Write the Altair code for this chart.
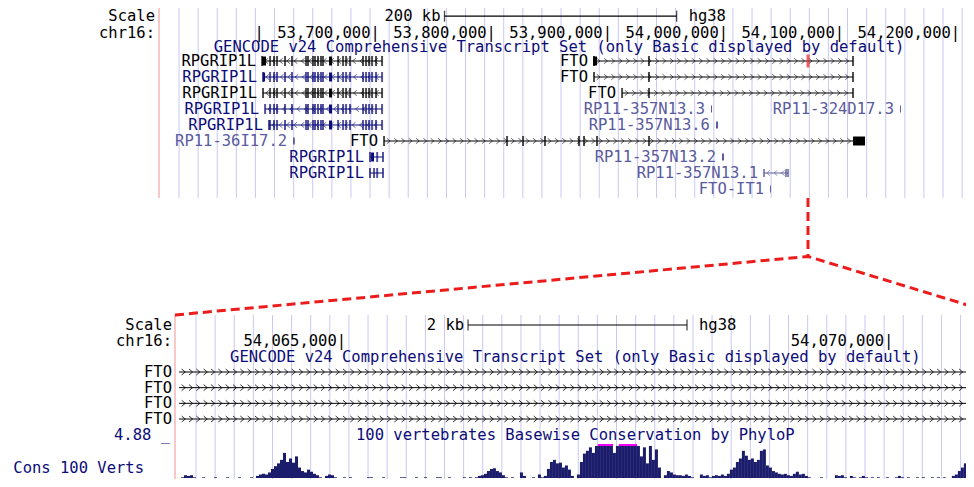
import altair as alt
import pandas as pd

# ------------------------------------------------------------------ canvas / style
W, H = 958, 471
FONT = "DejaVu Sans Mono"
FS = 15.5
BLACK, NAVY, SLATE = "#000000", "#0c0c78", "#5a5a9c"
GRID, BORDER = "#c8c8f6", "#f4a4a4"
RED, MAGENTA, BARS = "#ec1c1c", "#ff00ff", "#1c1c6c"
PLUS = "M-0.6,-1L0.6,0L-0.6,1"
MINUS = "M0.6,-1L-0.6,0L0.6,1"

# ------------------------------------------------------------------ top view (200 kb scale)
TOP_VIEW = [53_514_000, 54_203_300]
TOP_SCALEBAR = [53_760_000, 53_960_000]
TOP_SCALEBAR_TEXT = "200 kb"
ASSEMBLY = "hg38"
HEADER = ["Scale", "chr16:"]
TOP_TICK_POS = [53_600_000, 53_700_000, 53_800_000, 53_900_000, 54_000_000, 54_100_000, 54_200_000]
TOP_TICK_TEXT = ["|", "53,700,000|", "53,800,000|", "53,900,000|", "54,000,000|", "54,100,000|", "54,200,000|"]
TRACK_TITLE = "GENCODE v24 Comprehensive Transcript Set (only Basic displayed by default)"
TOP_TITLE_POS = 53_858_700
TOP_GUIDE_START, TOP_GUIDE_STEP, TOP_GUIDE_N = 53_531_260, 16_457, 42
ZOOM_ANCHOR = 54_073_200

GENE_NAME = ["RPGRIP1L", "RPGRIP1L", "RPGRIP1L", "RPGRIP1L", "RPGRIP1L", "RP11-36I17.2", "RPGRIP1L", "RPGRIP1L",
             "FTO", "FTO", "FTO", "RP11-357N13.3", "RP11-324D17.3", "RP11-357N13.6", "FTO",
             "RP11-357N13.2", "RP11-357N13.1", "FTO-IT1"]
GENE_ROW = [0, 1, 2, 3, 4, 5, 6, 7, 0, 1, 2, 3, 3, 4, 5, 6, 7, 8]
GENE_START = [53_602_800, 53_603_600, 53_603_600, 53_605_400, 53_608_800, 53_629_500, 53_695_800, 53_695_800,
              53_888_800, 53_888_800, 53_913_000, 53_989_600, 54_152_500, 53_993_900, 53_707_900,
              53_999_100, 54_035_300, 54_040_500]
GENE_END = [53_706_200, 53_706_200, 53_706_200, 53_706_200, 53_706_200, 53_631_000, 53_707_000, 53_707_000,
            54_112_000, 54_112_000, 54_112_000, 53_990_500, 54_153_300, 53_995_700, 54_122_300,
            54_000_800, 54_056_000, 54_041_300]
GENE_STRAND = ["-", "-", "-", "-", "-", "+", "-", "-", "+", "+", "+", "+", "+", "+", "+", "+", "-", "+"]
GENE_COLOR = [BLACK, NAVY, BLACK, NAVY, NAVY, SLATE, NAVY, NAVY, BLACK, BLACK, BLACK,
              SLATE, SLATE, SLATE, BLACK, SLATE, SLATE, SLATE]

RPG_EXONS = [53_609_700, 53_613_100, 53_615_700, 53_622_600, 53_628_600, 53_640_700, 53_642_400,
             53_646_700, 53_648_400, 53_651_000, 53_653_600, 53_655_300, 53_668_300, 53_672_600,
             53_675_200, 53_678_600, 53_689_800, 53_692_400, 53_695_000, 53_697_600, 53_701_000, 53_706_200]
FTO_SHORT_EXONS = [53_936_200, 54_112_000]
FTO_LONG_EXONS = [53_813_900, 53_827_700, 53_846_600, 53_875_900, 53_880_200, 53_891_400, 53_936_200]
GENE_EXONS = [RPG_EXONS, RPG_EXONS, RPG_EXONS, RPG_EXONS, RPG_EXONS, [],
              [53_702_000, 53_707_000], [53_699_300, 53_702_000, 53_707_000],
              FTO_SHORT_EXONS, FTO_SHORT_EXONS, FTO_SHORT_EXONS, [], [], [], FTO_LONG_EXONS, [],
              [54_054_300, 54_056_000], []]
RPG_WIDE = (53_660_500, 53_663_100)
GENE_BLOCKS = [[(53_602_800, 53_606_200), RPG_WIDE], [(53_603_600, 53_605_400), RPG_WIDE], [RPG_WIDE],
               [RPG_WIDE], [RPG_WIDE], [], [(53_696_700, 53_699_300)], [],
               [(53_888_000, 53_891_400)], [], [], [], [], [], [(54_112_000, 54_122_300)], [], [], []]
NC_GENES = ["RP11-36I17.2", "RP11-357N13.3", "RP11-324D17.3", "RP11-357N13.6", "RP11-357N13.2", "FTO-IT1"]
HIGHLIGHT_GENE_ROW, HIGHLIGHT_POS = 0, ZOOM_ANCHOR

# ------------------------------------------------------------------ bottom view (2 kb scale)
BOT_VIEW = [54_063_483, 54_070_800]
BOT_RIGHT_EDGE = 54_071_020
BOT_SCALEBAR = [54_066_160, 54_068_160]
BOT_SCALEBAR_TEXT = "2 kb"
BOT_TICK_POS = [54_065_000, 54_070_000]
BOT_TICK_TEXT = ["54,065,000|", "54,070,000|"]
BOT_TITLE_POS = 54_067_140
BOT_GENE_NAME = ["FTO", "FTO", "FTO", "FTO"]
BOT_GENE_ROW = [0, 1, 2, 3]
BOT_GENE_START = [54_063_520] * 4
BOT_GENE_END = [54_071_200] * 4
BOT_GUIDE_START, BOT_GUIDE_STEP, BOT_GUIDE_N = 54_063_675, 174.6, 41

CONS_TITLE = "100 vertebrates Basewise Conservation by PhyloP"
CONS_LABEL = "Cons 100 Verts"
CONS_MAX = 4.88
CONS_MAX_TEXT = "4.88 _"
CONS_START, CONS_STEP = 54_063_483, 27.4
CONS_SCORE = [
    0, 0, 0.1, 0.4, 0.3, 0.4, 0.1,
    0, 0, 0.1, 0, 0, 0, 0.1, 0, 0, 0, 0.1, 0, 0, 0, 0.1, 0, 0, 0, 0.1, 0, 0.3,
    0.5, 0.6, 0.5, 0.8, 1.3, 1.7, 2.1, 2.6, 3.6, 2.3, 2.8, 2.2, 3.1, 1.5, 1.0, 0.8, 1.2, 0.9, 0.6, 0.4,
    0.1, 0, 0.3, 0.5, 0.4, 0.1, 0, 0, 0.1,
    0, 0.1, 0, 0, 0, 0, 0, 0.1, 0.1, 0, 0, 0, 0.1, 0, 0, 0, 0, 0, 0.1, 0.1, 0, 0, 0, 0.1, 0, 0, 0.1,
    0, 0, 0, 0.1, 0.1, 0, 0, 0.1, 0, 0, 0, 0, 0.1, 0, 0.1, 0, 0.1, 0.3, 0.4,
    0.6, 1.0, 1.3, 1.4, 1.0, 0.8, 0.4, 0.1, 0, 0.1, 0, 0, 0.8, 0.3, 0, 0, 0.1, 0, 0.5, 0.1, 0.3, 1.3,
    2.3, 2.6, 2.1, 2.2, 1.5, 1.8, 1.2, 0.3, 0, 0.5, 2.3, 3.5, 3.9, 4.4, 3.6, 4.6, 5.4, 5.4, 5.4, 5.4,
    4.9, 3.6, 4.6, 5.4, 5.4, 5.4, 5.4, 5.4, 5.4, 4.6, 3.1, 4.4, 2.1, 4.6, 2.6, 4.1, 1.5,
    0, 0.4, 1.0, 0.8, 0.5, 0.4, 0.4, 0.3, 0.5, 0.3, 0.1, 0, 0, 0.5, 0.3, 0.4, 0.1, 0.3, 0.4, 0.3, 0.5,
    0.3, 0.6, 1.2, 1.5, 2.3, 2.8, 3.9, 3.2, 2.6, 2.8, 2.3, 2.6, 3.9, 4.1, 1.8, 1.5, 1.0, 0.8, 0.6, 0.5,
    0.6, 0.4, 0.3, 0.6, 0.9, 0.5, 0.6, 0.3, 0.1, 0, 0, 0, 0.1, 0, 0, 0, 0, 0.4, 0.3, 0.4, 0.1, 0, 0.3,
    0.1, 0, 0.1, 0.3, 0.1, 0, 0.1, 0, 0.1, 0, 0, 0.1, 0, 0, 0.1, 0.3, 0.1, 0, 0.1, 0, 0, 0.1, 0, 0.1,
    0, 0, 0.1, 0, 0.1, 0, 0.1, 0, 0, 0.3, 0.5, 1.0, 1.5, 2.1, 1.8, 2.3, 1.9,
]

# ------------------------------------------------------------------ layout (scale ranges, chart px)
TOP_RANGE, BOT_RANGE = [151, 951], [167, 968]
TOP_ROW_DOM, TOP_ROW_RANGE = [0, 8], [53, 181]
BOT_ROW_DOM, BOT_ROW_RANGE = [0, 3], [364, 411]
CONS_RANGE = [470, 436]
TOP_R = dict(scale=-2.8, coord=-1.75, title=-0.9, g0=-3.5, g1=8.56)
BOT_R = dict(scale=-3, coord=-1.95, title=-0.95, cons=4, label=6.1, g0=-3.64, g1=7.4)

tx = alt.Scale(domain=TOP_VIEW, range=TOP_RANGE, nice=False, zero=False)
ty = alt.Scale(domain=TOP_ROW_DOM, range=TOP_ROW_RANGE, nice=False, zero=False)
bx = alt.Scale(domain=BOT_VIEW, range=BOT_RANGE, nice=False, zero=False)
by = alt.Scale(domain=BOT_ROW_DOM, range=BOT_ROW_RANGE, nice=False, zero=False)
cy = alt.Scale(domain=[0, CONS_MAX], range=CONS_RANGE, nice=False, zero=False, clamp=True)


def lin(v, dom, rng):
    return rng[0] + (v - dom[0]) * (rng[1] - rng[0]) / (dom[1] - dom[0])


def X(f, s):
    return alt.X(f, scale=s, axis=None)


def Y(f, s):
    return alt.Y(f, scale=s, axis=None)


def YD(v, s):
    return alt.YDatum(v, scale=s, axis=None)


def text(df, xs, ys, align, dx=0, color=None, **kw):
    enc = dict(x=X("pos:Q", xs), y=Y("row:Q", ys), text="text:N")
    if color is None:
        enc["color"] = alt.Color("color:N", scale=None)
        m = alt.Chart(df).mark_text(font=FONT, fontSize=FS, align=align, baseline="middle", dx=dx, **kw)
    else:
        m = alt.Chart(df).mark_text(font=FONT, fontSize=FS, align=align, baseline="middle", dx=dx,
                                    color=color, **kw)
    return m.encode(**enc)


def chevrons(df, step):
    recs = []
    for _, g in df.iterrows():
        if g.end - g.start < 2 * step:
            continue
        p = g.start + step * 0.6
        while p < g.end - step * 0.4:
            recs.append(dict(pos=p, row=g.row, color=g.color, shape=PLUS if g.strand == "+" else MINUS))
            p += step
    return pd.DataFrame(recs)


layers = []

# ================================================================== TOP PANEL
genes = pd.DataFrame(dict(name=GENE_NAME, row=GENE_ROW, start=GENE_START, end=GENE_END,
                          strand=GENE_STRAND, color=GENE_COLOR))
guides_top = pd.DataFrame(dict(pos=[TOP_GUIDE_START + k * TOP_GUIDE_STEP for k in range(TOP_GUIDE_N)]))
layers.append(alt.Chart(guides_top).mark_rule(color=GRID, strokeWidth=1).encode(
    x=X("pos:Q", tx), y=YD(TOP_R["g0"], ty), y2=alt.Y2Datum(TOP_R["g1"])))
layers.append(alt.Chart(pd.DataFrame(dict(pos=[TOP_VIEW[0]]))).mark_rule(color=BORDER, strokeWidth=1.2).encode(
    x=X("pos:Q", tx), y=YD(TOP_R["g0"], ty), y2=alt.Y2Datum(TOP_R["g1"])))

# header
layers.append(text(pd.DataFrame(dict(pos=[TOP_VIEW[0]] * 2, row=[TOP_R["scale"], TOP_R["coord"]], text=HEADER)),
                   tx, ty, "right", dx=-4, color=BLACK))
sb = pd.DataFrame(dict(start=[TOP_SCALEBAR[0]], end=[TOP_SCALEBAR[1]], row=[TOP_R["scale"]]))
layers.append(alt.Chart(sb).mark_rule(color=BLACK, strokeWidth=1.2).encode(
    x=X("start:Q", tx), x2="end:Q", y=Y("row:Q", ty)))
sbt = pd.DataFrame(dict(pos=TOP_SCALEBAR, row=[TOP_R["scale"]] * 2))
layers.append(alt.Chart(sbt).mark_tick(orient="vertical", size=11, thickness=1.3, color=BLACK).encode(
    x=X("pos:Q", tx), y=Y("row:Q", ty)))
layers.append(text(pd.DataFrame(dict(pos=[TOP_SCALEBAR[0]], row=[TOP_R["scale"]], text=[TOP_SCALEBAR_TEXT])),
                   tx, ty, "right", dx=-4, color=BLACK))
layers.append(text(pd.DataFrame(dict(pos=[TOP_SCALEBAR[1]], row=[TOP_R["scale"]], text=[ASSEMBLY])),
                   tx, ty, "left", dx=12, color=BLACK))
layers.append(text(pd.DataFrame(dict(pos=TOP_TICK_POS, row=[TOP_R["coord"]] * len(TOP_TICK_POS),
                                     text=TOP_TICK_TEXT)), tx, ty, "right", dx=5, color=BLACK))
layers.append(text(pd.DataFrame(dict(pos=[TOP_TITLE_POS], row=[TOP_R["title"]], text=[TRACK_TITLE])),
                   tx, ty, "center", color=NAVY))

# gene bodies
layers.append(alt.Chart(genes).mark_rule(strokeWidth=1).encode(
    x=X("start:Q", tx), x2="end:Q", y=Y("row:Q", ty), color=alt.Color("color:N", scale=None)))
chev_top = chevrons(genes[~genes.name.isin(NC_GENES)], 6_300)
layers.append(alt.Chart(chev_top).mark_point(filled=False, size=30, strokeWidth=1, opacity=0.6).encode(
    x=X("pos:Q", tx), y=Y("row:Q", ty), color=alt.Color("color:N", scale=None),
    shape=alt.Shape("shape:N", scale=None)))
ticks = []
blocks = []
for i, g in genes.iterrows():
    if GENE_EXONS[i]:
        for p in [g.start] + list(GENE_EXONS[i]):
            ticks.append(dict(pos=p, row=g.row, color=g.color,
                              h=8 if g.strand == "-" and g["name"] != "RPGRIP1L" else 10))
    for (s, e) in GENE_BLOCKS[i]:
        blocks.append(dict(start=s, end=e, row=g.row, color=g.color, w=9))
    if g["name"] in NC_GENES:
        blocks.append(dict(start=g.start, end=g.end, row=g.row, color=g.color, w=7))
layers.append(alt.Chart(pd.DataFrame(ticks)).mark_tick(orient="vertical", thickness=2).encode(
    x=X("pos:Q", tx), y=Y("row:Q", ty), color=alt.Color("color:N", scale=None),
    size=alt.Size("h:Q", scale=None)))
layers.append(alt.Chart(pd.DataFrame(blocks)).mark_rule().encode(
    x=X("start:Q", tx), x2="end:Q", y=Y("row:Q", ty), color=alt.Color("color:N", scale=None),
    strokeWidth=alt.StrokeWidth("w:Q", scale=None)))
layers.append(alt.Chart(pd.DataFrame(dict(pos=[HIGHLIGHT_POS], row=[HIGHLIGHT_GENE_ROW]))).mark_tick(
    orient="vertical", size=13, thickness=3, color=RED).encode(x=X("pos:Q", tx), y=Y("row:Q", ty)))
labels = genes.rename(columns={"start": "pos", "name": "text"})
layers.append(text(labels, tx, ty, "right", dx=-6))

# ================================================================== BOTTOM PANEL
guides_bot = pd.DataFrame(dict(pos=[BOT_GUIDE_START + k * BOT_GUIDE_STEP for k in range(BOT_GUIDE_N)]))
layers.append(alt.Chart(guides_bot).mark_rule(color=GRID, strokeWidth=1).encode(
    x=X("pos:Q", bx), y=YD(BOT_R["g0"], by), y2=alt.Y2Datum(BOT_R["g1"])))
layers.append(alt.Chart(pd.DataFrame(dict(pos=[BOT_VIEW[0]]))).mark_rule(color=BORDER, strokeWidth=1.2).encode(
    x=X("pos:Q", bx), y=YD(BOT_R["g0"], by), y2=alt.Y2Datum(BOT_R["g1"])))

layers.append(text(pd.DataFrame(dict(pos=[BOT_VIEW[0]] * 2, row=[BOT_R["scale"], BOT_R["coord"]], text=HEADER)),
                   bx, by, "right", dx=-3, color=BLACK))
sb2 = pd.DataFrame(dict(start=[BOT_SCALEBAR[0]], end=[BOT_SCALEBAR[1]], row=[BOT_R["scale"]]))
layers.append(alt.Chart(sb2).mark_rule(color=BLACK, strokeWidth=1.2).encode(
    x=X("start:Q", bx), x2="end:Q", y=Y("row:Q", by)))
sbt2 = pd.DataFrame(dict(pos=BOT_SCALEBAR, row=[BOT_R["scale"]] * 2))
layers.append(alt.Chart(sbt2).mark_tick(orient="vertical", size=11, thickness=1.3, color=BLACK).encode(
    x=X("pos:Q", bx), y=Y("row:Q", by)))
layers.append(text(pd.DataFrame(dict(pos=[BOT_SCALEBAR[0]], row=[BOT_R["scale"]], text=[BOT_SCALEBAR_TEXT])),
                   bx, by, "right", dx=-4, color=BLACK))
layers.append(text(pd.DataFrame(dict(pos=[BOT_SCALEBAR[1]], row=[BOT_R["scale"]], text=[ASSEMBLY])),
                   bx, by, "left", dx=12, color=BLACK))
layers.append(text(pd.DataFrame(dict(pos=BOT_TICK_POS, row=[BOT_R["coord"]] * 2, text=BOT_TICK_TEXT)),
                   bx, by, "right", dx=5, color=BLACK))
layers.append(text(pd.DataFrame(dict(pos=[BOT_TITLE_POS] * 2, row=[BOT_R["title"], BOT_R["cons"]],
                                     text=[TRACK_TITLE, CONS_TITLE])), bx, by, "center", color=NAVY))

bgenes = pd.DataFrame(dict(name=BOT_GENE_NAME, row=BOT_GENE_ROW, start=BOT_GENE_START, end=BOT_GENE_END,
                           strand=["+"] * 4, color=[BLACK] * 4))
layers.append(alt.Chart(bgenes).mark_rule(strokeWidth=1, color=BLACK).encode(
    x=X("start:Q", bx), x2="end:Q", y=Y("row:Q", by)))
chev_bot = chevrons(bgenes, 67)
layers.append(alt.Chart(chev_bot).mark_point(filled=False, size=36, strokeWidth=1, opacity=0.8).encode(
    x=X("pos:Q", bx), y=Y("row:Q", by), color=alt.Color("color:N", scale=None),
    shape=alt.Shape("shape:N", scale=None)))
layers.append(text(pd.DataFrame(dict(pos=[BOT_VIEW[0]] * 4, row=BOT_GENE_ROW, text=BOT_GENE_NAME)),
                   bx, by, "right", dx=-3, color=BLACK))
layers.append(text(pd.DataFrame(dict(pos=[BOT_VIEW[0]], row=[BOT_R["cons"]], text=[CONS_MAX_TEXT])),
                   bx, by, "right", dx=-5, color=NAVY))
layers.append(text(pd.DataFrame(dict(pos=[BOT_VIEW[0]], row=[BOT_R["label"]], text=[CONS_LABEL])),
                   bx, by, "right", dx=-31, color=NAVY))

cons = pd.DataFrame(dict(start=[CONS_START + k * CONS_STEP for k in range(len(CONS_SCORE))],
                         score=CONS_SCORE))
cons["end"] = cons["start"] + CONS_STEP
layers.append(alt.Chart(cons).mark_rect(color=BARS).encode(
    x=X("start:Q", bx), x2="end:Q", y=Y("score:Q", cy), y2=alt.Y2Datum(0)))
layers.append(alt.Chart(cons).transform_filter(alt.datum.score > CONS_MAX).mark_rect(color=MAGENTA).encode(
    x=X("start:Q", bx), x2="end:Q", y=YD(CONS_MAX, cy), y2=alt.Y2Datum(CONS_MAX - 0.28)))

# ================================================================== zoom call-out (dashed red)
ax = lin(ZOOM_ANCHOR, TOP_VIEW, TOP_RANGE)
y_top = lin(TOP_R["g1"], TOP_ROW_DOM, TOP_ROW_RANGE)
y_bot = lin(BOT_R["g0"], BOT_ROW_DOM, BOT_ROW_RANGE)
yj = (y_top + y_bot) / 2
xl = lin(BOT_VIEW[0], BOT_VIEW, BOT_RANGE)
xr = lin(BOT_RIGHT_EDGE, BOT_VIEW, BOT_RANGE)
callout = pd.DataFrame(dict(seg=["a", "a", "b", "b", "b"], k=[0, 1, 0, 1, 2],
                            px=[ax, ax, xl, ax, xr], py=[y_top, yj, y_bot, yj, y_bot]))
pix_x = alt.Scale(domain=[0, W], range=[0, W], nice=False, zero=False)
pix_y = alt.Scale(domain=[0, H], range=[0, H], nice=False, zero=False)
layers.append(alt.Chart(callout).mark_line(color=RED, strokeWidth=3, strokeDash=[9, 5]).encode(
    x=X("px:Q", pix_x), y=Y("py:Q", pix_y), detail="seg:N", order="k:Q"))

chart = alt.layer(*layers).resolve_scale(x="independent", y="independent").properties(
    width=W, height=H, padding=0, autosize=alt.AutoSizeParams(type="none"), background="white"
).configure_view(stroke=None)

chart.save("out.html", embed_options={"renderer": "svg", "actions": False})
